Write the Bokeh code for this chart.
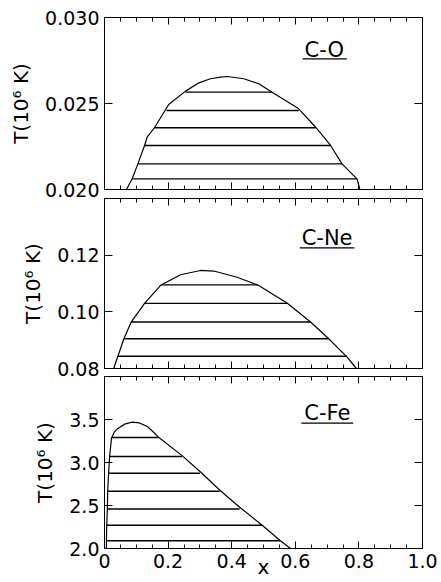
from bokeh.plotting import figure
from bokeh.models import (LinearAxis, FixedTicker, NumeralTickFormatter, Range1d,
                          Label, ColumnDataSource)
from bokeh.layouts import column
from bokeh.embed import file_html
from bokeh.resources import INLINE

# ---------------- data ----------------
# C-O phase diagram (x, T in 10^6 K)
co_x = [0.069, 0.087, 0.105, 0.126, 0.134, 0.157, 0.202, 0.255, 0.297, 0.333, 0.365,
        0.386, 0.438, 0.485, 0.527, 0.611, 0.664, 0.711, 0.747, 0.794, 0.803]
co_T = [0.02000, 0.02062, 0.02149, 0.02256, 0.02304, 0.02359, 0.02494, 0.02572, 0.02620,
        0.02644, 0.02653, 0.02657, 0.02644, 0.02615, 0.02566, 0.02469, 0.02362, 0.02256,
        0.02149, 0.02062, 0.02000]
co_tie_T = [0.02062, 0.02149, 0.02256, 0.02359, 0.02459, 0.02566]
co_tie_left = [0.087, 0.105, 0.126, 0.157, 0.195, 0.255]
co_tie_right = [0.794, 0.747, 0.711, 0.664, 0.611, 0.527]

# C-Ne phase diagram
ne_x = [0.029, 0.042, 0.061, 0.084, 0.126, 0.178, 0.239, 0.302, 0.344, 0.417, 0.485,
        0.575, 0.648, 0.705, 0.763, 0.792]
ne_T = [0.0800, 0.0843, 0.0905, 0.0964, 0.1030, 0.1095, 0.1131, 0.1146, 0.1144, 0.1122,
        0.1093, 0.1030, 0.0964, 0.0905, 0.0840, 0.0800]
ne_tie_T = [0.0843, 0.0905, 0.0964, 0.1030, 0.1095]
ne_tie_left = [0.042, 0.061, 0.084, 0.124, 0.178]
ne_tie_right = [0.763, 0.705, 0.648, 0.575, 0.482]

# C-Fe phase diagram
fe_x = [0.006, 0.006, 0.007, 0.009, 0.010, 0.013, 0.016, 0.022, 0.030, 0.040, 0.052,
        0.066, 0.087, 0.110, 0.134, 0.152, 0.171, 0.244, 0.302, 0.362, 0.425, 0.496,
        0.553, 0.585]
fe_T = [2.00, 2.09, 2.27, 2.46, 2.67, 2.88, 3.07, 3.28, 3.35, 3.39, 3.42, 3.45, 3.47,
        3.46, 3.42, 3.36, 3.29, 3.08, 2.89, 2.68, 2.48, 2.27, 2.09, 2.00]
fe_tie_T = [2.09, 2.27, 2.46, 2.665, 2.875, 3.07, 3.29]
fe_tie_left = [0.006, 0.007, 0.009, 0.010, 0.013, 0.016, 0.022]
fe_tie_right = [0.553, 0.496, 0.425, 0.362, 0.300, 0.244, 0.171]

x_ticks = [0.0, 0.2, 0.4, 0.6, 0.8, 1.0]
x_minor = [round(0.05 * i, 2) for i in range(21)]
co_ticks = [0.020, 0.025, 0.030]
ne_ticks = [0.08, 0.10, 0.12]
fe_ticks = [2.0, 2.5, 3.0, 3.5]

FONT = "DejaVu Sans"
Y_LABEL = "T(10\u2076 K)"
X_LABEL = "x"


def style_axis(ax, major_in, minor_in, show_labels, label_size="19px"):
    ax.major_tick_in = major_in
    ax.major_tick_out = 0
    ax.minor_tick_in = minor_in
    ax.minor_tick_out = 0
    ax.axis_line_color = "black"
    ax.axis_line_width = 1
    ax.major_tick_line_color = "black"
    ax.major_tick_line_width = 1
    ax.minor_tick_line_color = "black" if minor_in > 0 else None
    ax.major_label_text_font = FONT
    if show_labels:
        ax.major_label_text_font_size = label_size
        ax.major_label_text_color = "black"
    else:
        ax.major_label_text_font_size = "0px"
        ax.major_label_text_color = None
        ax.major_label_standoff = 0


def make_panel(yr, yticks, yfmt, bt, bb, frame_h, cx, cT, tT, tl, tr,
               name, name_x, name_y, ul_x0, ul_x1, ul_y, bottom_labels, top_margin):
    h = bt + frame_h + bb
    p = figure(width=440, height=h, x_range=Range1d(0, 1), y_range=Range1d(*yr),
               output_backend="svg", toolbar_location=None,
               x_axis_type=None, y_axis_type=None,
               min_border_left=104, min_border_right=18,
               min_border_top=bt, min_border_bottom=bb,
               margin=(top_margin, 0, 0, 0))
    p.outline_line_color = "black"
    p.outline_line_width = 1
    p.background_fill_color = "white"
    p.border_fill_color = None

    xt = FixedTicker(ticks=x_ticks, minor_ticks=x_minor)
    yt = FixedTicker(ticks=yticks, minor_ticks=[])

    xb = LinearAxis(ticker=xt, formatter=NumeralTickFormatter(format="0.0"))
    xb.major_label_overrides = {0: "0"}
    style_axis(xb, 7, 4, bottom_labels, "19px")
    if bottom_labels:
        xb.major_label_standoff = 5
        xb.axis_label = X_LABEL
        xb.axis_label_text_font = FONT
        xb.axis_label_text_font_size = "20px"
        xb.axis_label_text_font_style = "normal"
        xb.axis_label_text_color = "black"
        xb.axis_label_standoff = -16
    p.add_layout(xb, "below")

    xa = LinearAxis(ticker=xt)
    style_axis(xa, 7, 4, False)
    p.add_layout(xa, "above")

    yl = LinearAxis(ticker=yt, formatter=NumeralTickFormatter(format=yfmt))
    style_axis(yl, 8, 0, True, "19px")
    yl.major_label_standoff = 5
    yl.axis_label = Y_LABEL
    yl.axis_label_text_font = FONT
    yl.axis_label_text_font_size = "20px"
    yl.axis_label_text_font_style = "normal"
    yl.axis_label_text_color = "black"
    yl.axis_label_standoff = 9
    p.add_layout(yl, "left")

    yrr = LinearAxis(ticker=yt)
    style_axis(yrr, 8, 0, False)
    p.add_layout(yrr, "right")

    p.line(cx, cT, line_color="black", line_width=1.2)
    src = ColumnDataSource(dict(x0=tl, x1=tr, y=tT))
    p.segment(x0="x0", y0="y", x1="x1", y1="y", source=src,
              line_color="black", line_width=1.4)

    p.add_layout(Label(x=name_x, y=name_y, text=name, text_font=FONT,
                       text_font_size="21px", text_align="center",
                       text_baseline="middle", text_color="black"))
    p.segment(x0=[ul_x0], y0=[ul_y], x1=[ul_x1], y1=[ul_y],
              line_color="black", line_width=1.2)
    return p


p1 = make_panel((0.020, 0.030), co_ticks, "0.000", 17, 14, 172,
                co_x, co_T, co_tie_T, co_tie_left, co_tie_right,
                "C-O", 0.691, 0.02812, 0.623, 0.762, 0.02760, False, 0)
p2 = make_panel((0.08, 0.14), ne_ticks, "0.00", 1, 14, 170,
                ne_x, ne_T, ne_tie_T, ne_tie_left, ne_tie_right,
                "C-Ne", 0.700, 0.1259, 0.614, 0.786, 0.1226, False, -6)
p3 = make_panel((2.0, 4.0), fe_ticks, "0.0", 1, 33, 172,
                fe_x, fe_T, fe_tie_T, fe_tie_left, fe_tie_right,
                "C-Fe", 0.701, 3.576, 0.619, 0.782, 3.457, True, -7)

layout = column(p1, p2, p3, spacing=0)
open("out.html", "w").write(file_html(layout, INLINE))
